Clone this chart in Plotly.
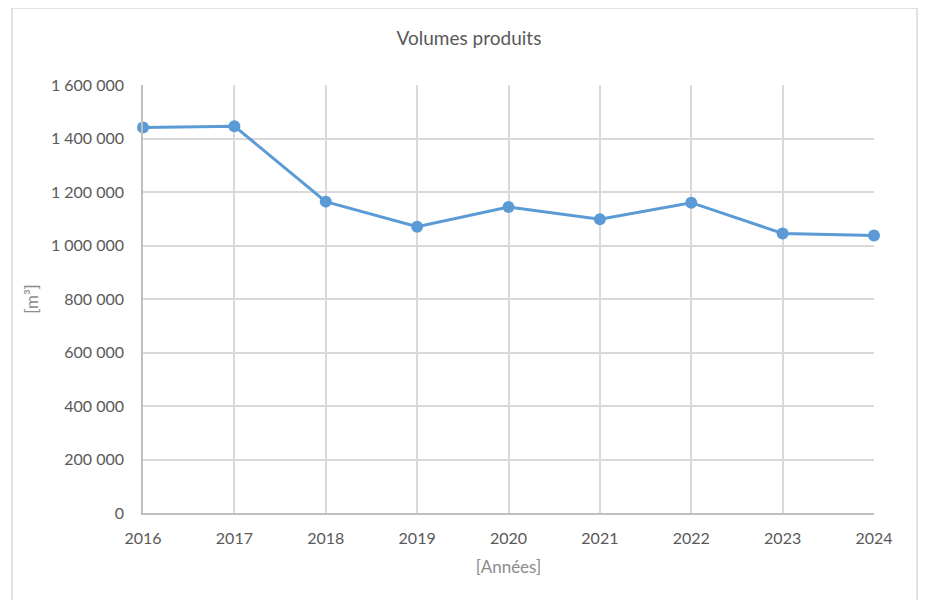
import plotly.graph_objects as go

years = [2016, 2017, 2018, 2019, 2020, 2021, 2022, 2023, 2024]
volumes = [1441000, 1446000, 1164000, 1070000, 1144000, 1098000, 1160000, 1045000, 1037000]
y_ticks = [0, 200000, 400000, 600000, 800000, 1000000, 1200000, 1400000, 1600000]

FONT = "Lato, Open Sans, sans-serif"
TXT = "#595959"
GRID = "#D9D9D9"

# page body adds an 8px offset; compensate
OFF = 8
W, H = 927 - OFF, 600 - OFF
L, R, T, B = 143 - OFF, 53, 85 - OFF, 87
PW = W - L - R
PH = H - T - B

fig = go.Figure()
fig.add_trace(go.Scatter(
    x=years, y=volumes, mode="lines+markers",
    line=dict(color="#5B9BD5", width=3),
    marker=dict(color="#5B9BD5", size=12),
    cliponaxis=False,
    showlegend=False,
))

fig.update_layout(
    width=W, height=H,
    margin=dict(l=L, r=R, t=T, b=B, autoexpand=False),
    paper_bgcolor="white", plot_bgcolor="white",
    separators=", ",
    font=dict(family=FONT, color=TXT, size=16),
    title=dict(text="Volumes produits", x=(469 - OFF) / W, xanchor="center",
               y=1 - (38 - OFF) / H, yanchor="middle",
               font=dict(family=FONT, size=19, color=TXT)),
    xaxis=dict(
        range=[2016, 2024], tickvals=years, ticktext=[str(y) for y in years],
        showgrid=True, gridcolor=GRID, gridwidth=1.5,
        showline=True, linecolor="#BFBFBF", linewidth=1.5,
        zeroline=False, ticks="", ticklabelstandoff=10, automargin=False,
        title=dict(text="[Années]", standoff=15, font=dict(size=17, color="#8C8C8C")),
    ),
    yaxis=dict(
        range=[0, 1600000], tickvals=y_ticks, tickformat=",d",
        showgrid=True, gridcolor=GRID, gridwidth=1.5,
        showline=True, linecolor="#BFBFBF", linewidth=1.5,
        zeroline=False, ticks="", ticklabelstandoff=14, automargin=False,
        title=dict(text="[m³]", standoff=8, font=dict(size=17, color="#8C8C8C")),
    ),
    shapes=[dict(type="rect", xref="paper", yref="paper",
                 x0=(12 - 143) / PW, x1=(917 - 143) / PW,
                 y0=(513 - 640) / PH, y1=(513 - 8) / PH,
                 line=dict(color="#D9D9D9", width=1.5), fillcolor="rgba(0,0,0,0)",
                 layer="below")],
)

fig.write_html("out.html")
